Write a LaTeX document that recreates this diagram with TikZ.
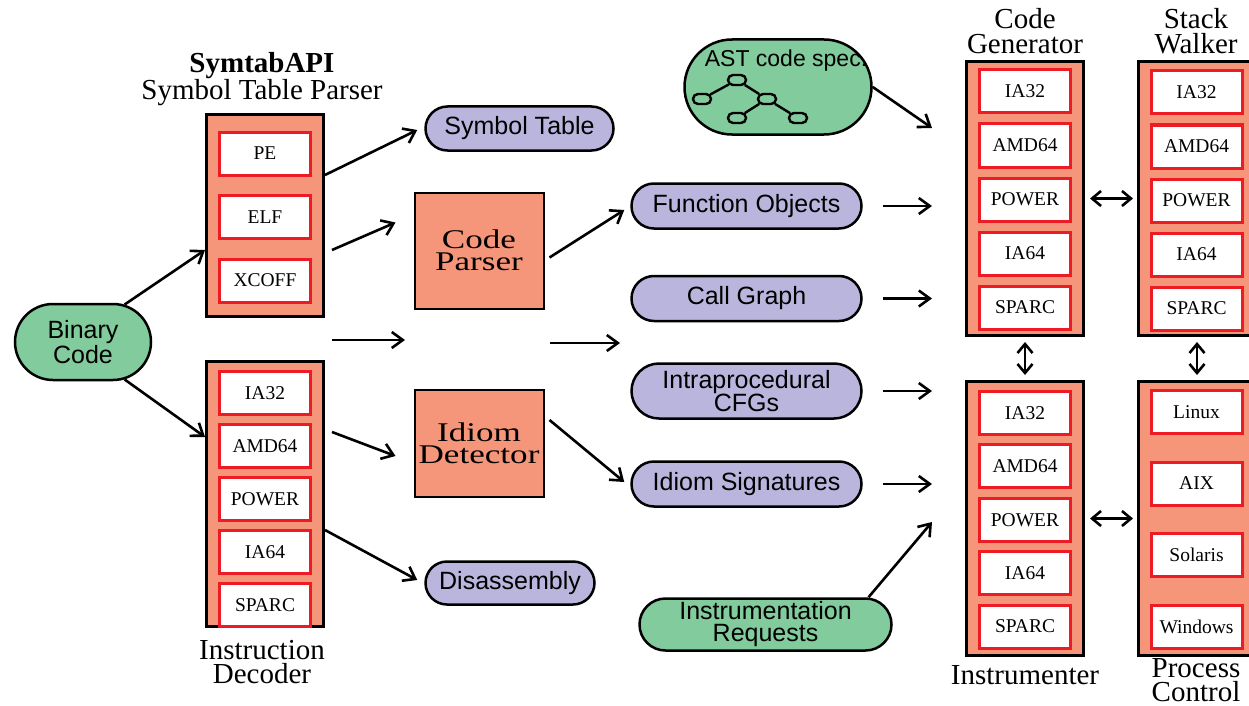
\documentclass[tikz,border=0pt]{standalone}
\usepackage{fontspec}
\setmainfont{Liberation Serif}
\setsansfont{Liberation Sans}
\newfontfamily\toolfont[FakeStretch=1.3]{Liberation Serif}
\usepackage{tikz}
\usetikzlibrary{positioning, arrows.meta, shapes.misc, calc}
\definecolor{cSalmon}{HTML}{F5967A}
\definecolor{cRed}   {HTML}{ED1C24}
\definecolor{cGreen} {HTML}{82CB9C}
\definecolor{cLilac} {HTML}{BAB5DD}

\tikzset{
  unitbox/.style={draw=black, fill=cSalmon, line width=3pt, minimum width=117pt},
  archbox/.style={draw=cRed, fill=white, line width=3pt, minimum width=91pt,
    minimum height=43pt, inner sep=0pt, font=\fontsize{19.5}{19.5}\selectfont},
  pill/.style={rounded rectangle, draw=black, line width=2.5pt, inner sep=2pt,
    align=center, font=\sffamily\fontsize{25}{22}\selectfont},
  datapill/.style={pill, fill=cLilac},
  inpill/.style={pill, fill=cGreen},
  treenode/.style={rounded rectangle, draw=black, fill=cGreen, line width=2.4pt,
    minimum width=18pt, minimum height=10pt, inner sep=0pt},
  tool/.style={draw=black, fill=cSalmon, line width=2pt, minimum width=129pt,
    align=center, font=\toolfont\fontsize{27}{22}\selectfont},
  title/.style={align=center, font=\fontsize{29}{24.5}\selectfont},
  arr/.style={-{Straight Barb[length=11pt, width=16pt]}, line width=2.6pt},
  dblarr/.style={{Straight Barb[length=9pt, width=15pt]}-{Straight Barb[length=9pt, width=15pt]},
    line width=2.6pt},
}

\begin{document}
\begin{tikzpicture}[x=1pt, y=-1pt]
  \clip (0,0) rectangle (1249,706);

  % inputs
  \node[inpill, minimum width=140pt, minimum height=76pt] (bin) at (83,342) {Binary\\Code};
  \node[inpill, minimum width=191pt, minimum height=95pt] (ast) at (778,87) {};
  \node[font=\sffamily\fontsize{23}{23}\selectfont] (astlbl) at (786,61) {AST code spec.};
  \foreach \n/\x/\y in {t1/737/80, t2/702/99, t3/767/99, t4/737/118, t5/798/118}
    \node[treenode] (\n) at (\x,\y) {};
  \draw[line width=2.4pt] (t1) -- (t2) (t1) -- (t3) (t3) -- (t4) (t3) -- (t5);
  \node[inpill, minimum width=256pt, minimum height=52pt] (ireq) at (765.5,624.5)
    {Instrumentation\\Requests};

  % symtabAPI and instruction decoder
  \node[unitbox, minimum height=202pt] (symtab) at (265,215.5) {};
  \foreach \a [count=\i] in {PE,ELF,XCOFF}
    \node[archbox] (st\i) at (265,{153.5+63.5*(\i-1)}) {\a};
  \node[title] (symtabT) at (262,79) {\textbf{SymtabAPI}\\Symbol Table Parser};

  \node[unitbox, minimum height=265pt] (dec) at (265,494) {};
  \foreach \a [count=\i] in {IA32,AMD64,POWER,IA64,SPARC}
    \node[archbox] (dec\i) at (265,{393+53*(\i-1)}) {\a};
  \node[title] (decT) at (262,662) {Instruction\\Decoder};

  % parsers
  \node[tool, minimum height=116pt] (cparse) at (479,250.5) {Code\\Parser};
  \node[tool, minimum height=107pt] (idiom) at (479,443) {Idiom\\Detector};

  % products
  \node[datapill, minimum width=192pt, minimum height=44pt] (symtbl) at (519.5,128.5) {Symbol Table};
  \node[datapill, minimum width=173pt, minimum height=43pt] (disasm) at (510,583) {Disassembly};
  \node[datapill, minimum width=234pt, minimum height=45pt] (fobj) at (746.5,206) {Function Objects};
  \node[datapill, minimum width=234pt, minimum height=45pt] (cgraph) at (746.5,298.5) {Call Graph};
  \node[datapill, minimum width=234pt, minimum height=55pt] (cfg) at (746.5,391) {Intraprocedural\\CFGs};
  \node[datapill, minimum width=234pt, minimum height=45pt] (isig) at (746.5,484) {Idiom Signatures};

  % right-hand components
  \node[unitbox, minimum height=274pt] (cgen) at (1025,198.5) {};
  \node[unitbox, minimum height=274pt] (swalk) at (1197,198.5) {};
  \node[unitbox, minimum height=274pt] (instr) at (1025,518.5) {};
  \node[unitbox, minimum height=274pt] (pctl) at (1197,518.5) {};
  \foreach \a [count=\i] in {IA32,AMD64,POWER,IA64,SPARC} {
    \node[archbox] (cg\i) at (1025,{91.5+54*(\i-1)}) {\a};
    \node[archbox] (sw\i) at (1196.5,{92.5+54*(\i-1)}) {\a};
    \node[archbox] (in\i) at (1025,{413+53.4*(\i-1)}) {\a};
  }
  \foreach \a [count=\i] in {Linux,AIX,Solaris,Windows}
    \node[archbox] (pc\i) at (1196.5,{412+71.5*(\i-1)}) {\a};
  \node[title] (cgenT) at (1025,31) {Code\\Generator};
  \node[title] (swalkT) at (1196,31) {Stack\\Walker};
  \node[title] (instrT) at (1025,675) {Instrumenter};
  \node[title] (pctlT) at (1196,680) {Process\\Control};

  % flow
  \coordinate (flowA) at (332,340);
  \coordinate (flowB) at (405,340);
  \coordinate (flowC) at (550,343);
  \coordinate (flowD) at (620,343);
  \draw[arr] (bin.42) -- ($(symtab.west)+(0,34.5)$);
  \draw[arr] (bin.-42) -- ($(dec.west)+(0,-57)$);
  \draw[arr] ($(symtab.east)+(0,-40.5)$) -- ($(symtbl.west)+(-7,1.5)$);
  \draw[arr] ($(symtab.east)+(7,34.5)$) -- ($(cparse.west)+(-18,-28)$);
  \draw[arr] (flowA) -- (flowB);
  \draw[arr] (flowC) -- (flowD);
  \draw[arr] ($(dec.east)+(7,-62)$) -- ($(idiom.west)+(-18,13)$);
  \draw[arr] ($(dec.east)+(0,36)$) -- ($(disasm.west)+(-7,-3)$);
  \draw[arr] ($(cparse.east)+(5,7)$) -- ($(fobj.west)+(-6,4)$);
  \draw[arr] ($(idiom.east)+(5,-23)$) -- ($(isig.west)+(-6,-2)$);
  \draw[arr, shorten <=20pt, shorten >=33pt] (fobj.east) -- (fobj.east -| cgen.west);
  \draw[arr, shorten <=20pt, shorten >=33pt] (cgraph.east) -- (cgraph.east -| cgen.west);
  \draw[arr, shorten <=20pt, shorten >=33pt] (cfg.east) -- (cfg.east -| instr.west);
  \draw[arr, shorten <=20pt, shorten >=33pt] (isig.east) -- (isig.east -| instr.west);
  \draw[arr] (ast.east) -- ($(cgen.west)+(-33,-70.5)$);
  \draw[arr] ($(ireq.north)+(103,0)$) -- ($(instr.west)+(-33,3.5)$);
  \draw[dblarr, shorten <=5pt, shorten >=4pt] (cgen.east) -- (swalk.west);
  \draw[dblarr, shorten <=5pt, shorten >=5pt] (cgen.south) -- (instr.north);
  \draw[dblarr, shorten <=5pt, shorten >=5pt] (swalk.south) -- (pctl.north);
  \draw[dblarr, shorten <=5pt, shorten >=4pt] (instr.east) -- (pctl.west);
\end{tikzpicture}
\end{document}
